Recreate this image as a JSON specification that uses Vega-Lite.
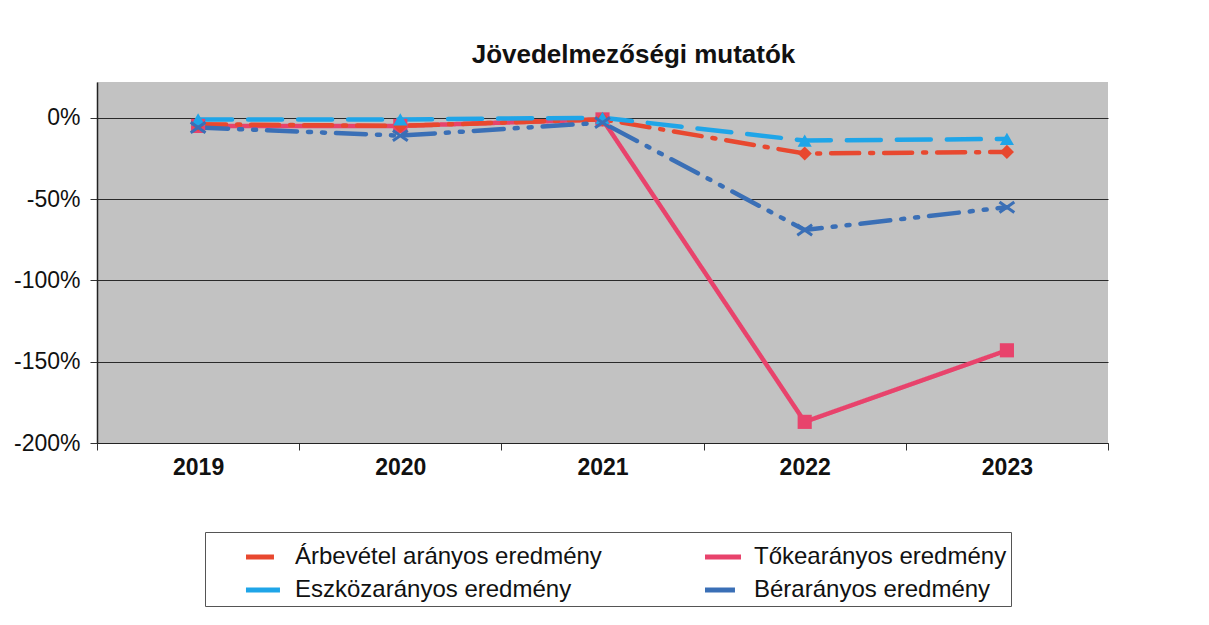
{
  "$schema": "https://vega.github.io/schema/vega-lite/v6.json",
  "autosize": {"type": "none"},
  "width": 1011,
  "height": 361,
  "padding": {"left": 97, "top": 82, "right": 101, "bottom": 182},
  "background": "white",
  "title": {
    "text": "Jövedelmezőségi mutatók",
    "font": "Liberation Sans",
    "fontSize": 26,
    "fontWeight": "bold",
    "color": "#111",
    "anchor": "middle",
    "dx": 31,
    "offset": 14
  },
  "config": {
    "view": {"fill": "#c2c2c2", "stroke": null},
    "font": "Liberation Sans"
  },
  "data": {
    "values": [
      {"year": "2019", "series": "Tőkearányos eredmény", "value": -5},
      {"year": "2020", "series": "Tőkearányos eredmény", "value": -5},
      {"year": "2021", "series": "Tőkearányos eredmény", "value": -1},
      {"year": "2022", "series": "Tőkearányos eredmény", "value": -187},
      {"year": "2023", "series": "Tőkearányos eredmény", "value": -143},
      {"year": "2019", "series": "Árbevétel arányos eredmény", "value": -4},
      {"year": "2020", "series": "Árbevétel arányos eredmény", "value": -5},
      {"year": "2021", "series": "Árbevétel arányos eredmény", "value": -1},
      {"year": "2022", "series": "Árbevétel arányos eredmény", "value": -22},
      {"year": "2023", "series": "Árbevétel arányos eredmény", "value": -21},
      {"year": "2019", "series": "Eszközarányos eredmény", "value": -1},
      {"year": "2020", "series": "Eszközarányos eredmény", "value": -1},
      {"year": "2021", "series": "Eszközarányos eredmény", "value": 0},
      {"year": "2022", "series": "Eszközarányos eredmény", "value": -14},
      {"year": "2023", "series": "Eszközarányos eredmény", "value": -13},
      {"year": "2019", "series": "Bérarányos eredmény", "value": -6},
      {"year": "2020", "series": "Bérarányos eredmény", "value": -11},
      {"year": "2021", "series": "Bérarányos eredmény", "value": -3},
      {"year": "2022", "series": "Bérarányos eredmény", "value": -69},
      {"year": "2023", "series": "Bérarányos eredmény", "value": -55}
    ]
  },
  "encoding": {
    "x": {
      "field": "year",
      "type": "ordinal",
      "scale": {"paddingInner": 0, "paddingOuter": 0},
      "axis": {
        "title": null,
        "labelAngle": 0,
        "labelFont": "Liberation Sans",
        "labelFontSize": 23,
        "labelFontWeight": "bold",
        "labelColor": "#111",
        "tickBand": "extent",
        "tickSize": 7,
        "tickColor": "#333",
        "domainColor": "#222",
        "labelPadding": 6,
        "grid": false
      }
    },
    "y": {
      "field": "value",
      "type": "quantitative",
      "scale": {"domain": [-200, 22], "nice": false, "zero": false},
      "axis": {
        "title": null,
        "values": [0, -50, -100, -150, -200],
        "labelExpr": "datum.value + '%'",
        "labelFont": "Liberation Sans",
        "labelFontSize": 23,
        "labelColor": "#111",
        "tickSize": 7,
        "tickColor": "#333",
        "labelPadding": 10,
        "domainColor": "#222",
        "domainWidth": 1.5,
        "grid": true,
        "gridColor": "#2a2a2a",
        "gridWidth": 1.2
      }
    }
  },
  "layer": [
    {
      "mark": {"type": "line", "strokeWidth": 4.5, "strokeCap": "round"},
      "encoding": {
        "color": {
          "field": "series",
          "type": "nominal",
          "scale": {
            "domain": ["Árbevétel arányos eredmény", "Tőkearányos eredmény", "Eszközarányos eredmény", "Bérarányos eredmény"],
            "range": ["#e8482f", "#e8436c", "#1fa5e8", "#3a6fb6"]
          },
          "legend": {
            "title": null,
            "orient": "none",
            "legendX": 108,
            "legendY": 450,
            "columns": 2,
            "direction": "horizontal",
            "columnPadding": 66,
            "rowPadding": 0,
            "padding": 4,
            "symbolOffset": 34,
            "strokeColor": "#555",
            "fillColor": "white",
            "symbolType": "stroke",
            "symbolSize": 1300,
            "symbolStrokeWidth": 5,
            "labelFont": "Liberation Sans",
            "labelFontSize": 24,
            "labelColor": "#111",
            "labelOffset": 10,
            "labelLimit": 400
          }
        },
        "strokeDash": {
          "field": "series",
          "type": "nominal",
          "scale": {
            "domain": ["Árbevétel arányos eredmény", "Tőkearányos eredmény", "Eszközarányos eredmény", "Bérarányos eredmény"],
            "range": [[28, 11, 3, 11], [1, 0], [34, 16], [30, 11, 3, 11, 3, 11]]
          },
          "legend": null
        }
      }
    },
    {
      "transform": [{"filter": "datum.series !== 'Bérarányos eredmény'"}],
      "mark": {"type": "point", "filled": true, "size": 200, "opacity": 1},
      "encoding": {
        "color": {"field": "series", "type": "nominal", "legend": null},
        "shape": {
          "field": "series",
          "type": "nominal",
          "scale": {
            "domain": ["Árbevétel arányos eredmény", "Tőkearányos eredmény", "Eszközarányos eredmény"],
            "range": ["diamond", "square", "triangle-up"]
          },
          "legend": null
        }
      }
    },
    {
      "transform": [{"filter": "datum.series === 'Bérarányos eredmény'"}],
      "mark": {"type": "point", "filled": false, "size": 220, "strokeWidth": 3, "opacity": 1, "shape": "M-1,-0.7L1,0.7M1,-0.7L-1,0.7", "color": "#3a6fb6"},
      "encoding": {}
    }
  ]
}
